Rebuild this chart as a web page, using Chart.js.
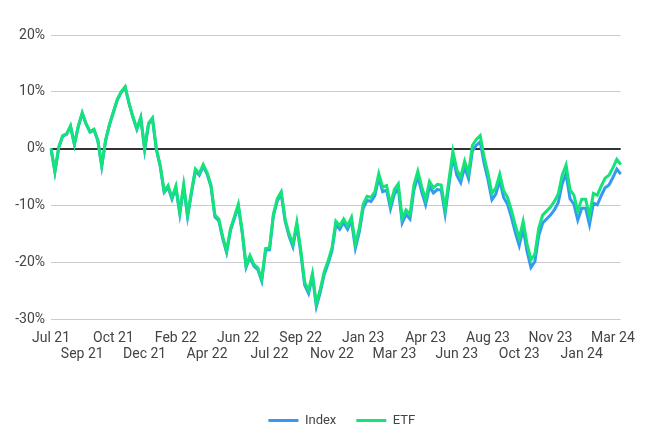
<!DOCTYPE html>
<html>
<head>
<meta charset="utf-8">
<script src="https://cdn.jsdelivr.net/npm/chart.js@4.4.1/dist/chart.umd.min.js"></script>
<style>
  html, body { margin: 0; padding: 0; background: #fff; }
  #wrap { width: 647px; height: 429px; }
</style>
</head>
<body>
<div id="wrap"><canvas id="myChart" width="647" height="429"></canvas></div>
<script>
// axis labels shown under the chart, one every 8 weekly points
const tickLabels = ['Jul 21', 'Sep 21', 'Oct 21', 'Dec 21', 'Feb 22', 'Apr 22', 'Jun 22', 'Jul 22',
  'Sep 22', 'Nov 22', 'Jan 23', 'Mar 23', 'Apr 23', 'Jun 23', 'Aug 23', 'Oct 23', 'Nov 23', 'Jan 24', 'Mar 24'];
const TICK_EVERY = 8;

// weekly % return since start
const etfValues = [
  0, -4, 0.3, 2.3, 2.6, 4.0, 0.8, 4.0, 6.3, 4.4,
  3.0, 3.4, 1.5, -3.0, 1.5, 4.3, 6.5, 8.7, 10.0, 10.9,
  8.0, 5.6, 3.5, 5.5, 0.0, 4.5, 5.4, 0.0, -3.0, -7.5,
  -6.5, -8.6, -6.6, -11.2, -6.4, -11.7, -7.5, -3.6, -4.4, -2.8,
  -4.2, -6.4, -11.7, -12.4, -15.5, -18.0, -14.1, -12.0, -9.8, -14.5,
  -20.6, -18.8, -20.4, -21.0, -23.0, -17.6, -17.5, -11.5, -8.8, -7.6,
  -12.4, -15.0, -16.8, -13.0, -17.8, -23.5, -25.0, -22.0, -27.3, -24.8,
  -21.7, -19.8, -17.5, -12.8, -13.6, -12.4, -13.6, -12.1, -16.8, -14.0,
  -9.8, -8.4, -8.6, -7.6, -4.4, -6.8, -6.5, -9.8, -7.2, -6.2,
  -12.3, -10.8, -11.6, -6.4, -4.0, -6.7, -9.0, -5.8, -6.9, -6.3,
  -6.4, -10.6, -5.4, -0.5, -3.7, -5.0, -2.2, -4.3, 0.6, 1.6,
  2.3, -1.5, -4.4, -7.9, -6.9, -4.5, -7.4, -8.6, -10.9, -13.5,
  -15.8, -12.8, -16.8, -19.6, -18.6, -14.0, -11.7, -11.0, -10.3, -9.3,
  -8.0, -4.7, -2.9, -7.2, -8.2, -11.0, -8.9, -8.9, -11.8, -7.9,
  -8.2, -6.6, -5.2, -4.7, -3.4, -1.9, -2.8
];
const indexValues = [
  0, -4.1, 0.2, 2.2, 2.5, 3.9, 0.7, 3.9, 6.2, 4.3,
  2.9, 3.3, 1.4, -3.1, 1.4, 4.2, 6.4, 8.6, 9.9, 10.8,
  7.9, 5.5, 3.4, 5.4, -0.2, 4.3, 5.2, -0.2, -3.2, -7.7,
  -6.8, -8.9, -6.9, -11.5, -6.7, -12.0, -7.8, -3.9, -4.7, -3.1,
  -4.5, -6.7, -12.0, -12.7, -15.8, -18.3, -14.4, -12.3, -10.1, -14.8,
  -20.9, -19.1, -20.7, -21.3, -23.3, -17.9, -17.8, -11.8, -9.2, -8.0,
  -12.8, -15.4, -17.3, -13.5, -18.3, -24.0, -25.5, -22.5, -27.8, -25.3,
  -22.2, -20.3, -18.0, -13.4, -14.2, -13.0, -14.2, -12.7, -17.5, -14.7,
  -10.5, -9.1, -9.3, -8.3, -5.1, -7.6, -7.3, -10.6, -8.0, -7.0,
  -13.1, -11.6, -12.4, -7.3, -4.9, -7.6, -9.9, -6.7, -7.8, -7.2,
  -7.3, -11.5, -6.3, -1.4, -4.7, -6.0, -3.2, -5.3, -0.4, 0.6,
  1.2, -2.6, -5.5, -9.0, -8.0, -5.6, -8.6, -9.8, -12.1, -14.8,
  -17.1, -14.1, -18.1, -20.9, -19.9, -15.3, -13.1, -12.4, -11.7, -10.8,
  -9.5, -6.2, -4.4, -8.8, -9.8, -12.6, -10.5, -10.5, -13.4, -9.6,
  -9.9, -8.3, -6.9, -6.4, -5.1, -3.6, -4.5
];
const weeks = etfValues.map((v, i) => i);

const INDEX_COLOR = '#3399f3';
const ETF_COLOR = '#14e37a';
const TEXT = '#444';

// keep the legend strip short so it sits at the very bottom, nudge it right a bit
const legendFix = {
  id: 'legendFix',
  beforeUpdate(chart) {
    const lg = chart.legend;
    if (lg && !lg._fixed) {
      const fit = lg.fit;
      const draw = lg.draw;
      lg.fit = function () { fit.call(this); this.height = 35; };
      lg.draw = function () {
        const c = this.ctx;
        c.save();
        c.translate(6, 0);
        draw.call(this);
        c.restore();
      };
      lg._fixed = true;
    }
  }
};

const ctx = document.getElementById('myChart').getContext('2d');
new Chart(ctx, {
  type: 'line',
  data: {
    labels: weeks,
    datasets: [
      { label: 'Index', data: indexValues, borderColor: INDEX_COLOR, backgroundColor: INDEX_COLOR, order: 1 },
      { label: 'ETF', data: etfValues, borderColor: ETF_COLOR, backgroundColor: ETF_COLOR, order: 0 }
    ]
  },
  options: {
    responsive: false,
    animation: false,
    layout: { padding: { left: 0, right: 15, top: 35, bottom: 0 } },
    elements: {
      // radius 0 hides the points; borderWidth is what the legend line uses
      point: { radius: 0, borderWidth: 3 },
      line: { borderWidth: 3, tension: 0 }
    },
    plugins: {
      tooltip: { enabled: false },
      legend: {
        position: 'bottom',
        fullSize: false,
        labels: {
          usePointStyle: true,
          pointStyle: 'line',
          pointStyleWidth: 30,
          padding: 20,
          color: TEXT,
          font: { family: 'Roboto', size: 13 },
          sort: (a, b) => a.datasetIndex - b.datasetIndex
        }
      }
    },
    scales: {
      x: {
        grid: { display: false, drawTicks: false },
        border: { display: false },
        ticks: {
          autoSkip: false,
          maxRotation: 0,
          padding: 12,
          color: TEXT,
          font: { family: 'Roboto', size: 14, lineHeight: 1.1 },
          callback(v, i) {
            if (i % TICK_EVERY) return null;
            const k = i / TICK_EVERY;
            const t = tickLabels[k];
            if (t === undefined) return null;
            return k % 2 ? ['', t] : t;
          }
        },
        afterFit(s) { s.height = 75; }
      },
      y: {
        min: -30,
        max: 20,
        border: { display: false },
        grid: {
          drawTicks: false,
          color: c => c.tick.value === 0 ? '#333' : '#ccc',
          lineWidth: c => c.tick.value === 0 ? 2 : 1
        },
        ticks: {
          stepSize: 10,
          padding: 6,
          color: TEXT,
          font: { family: 'Roboto', size: 14 },
          callback: v => v + '%'
        },
        afterFit(s) { s.width = 51; }
      }
    }
  },
  plugins: [legendFix]
});
</script>
</body>
</html>
